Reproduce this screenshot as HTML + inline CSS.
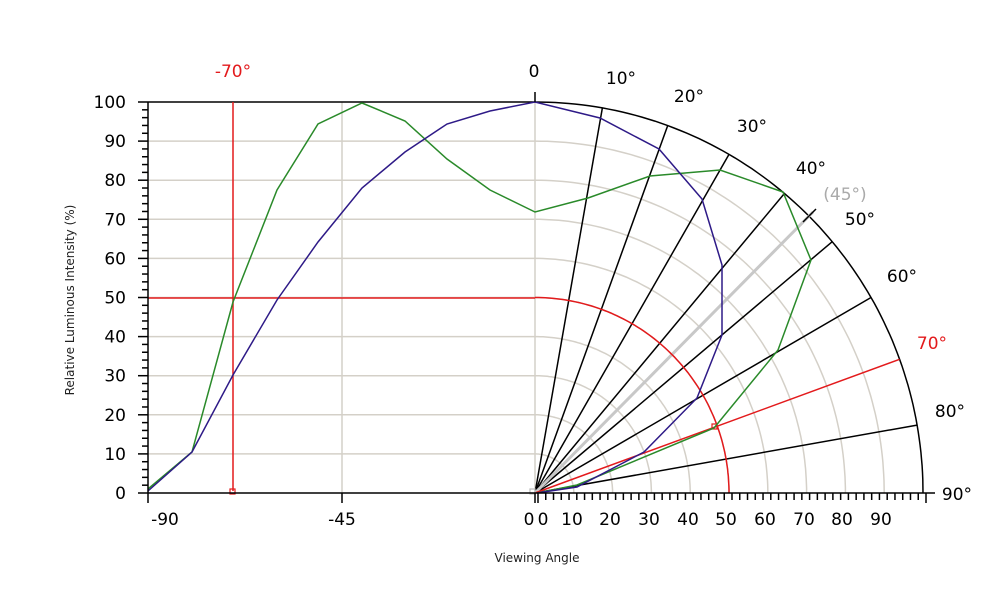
<!DOCTYPE html>
<html><head><meta charset="utf-8"><style>body{margin:0;background:#fff}svg{display:block}text{font-family:"DejaVu Sans","Liberation Sans",sans-serif}</style></head>
<body>
<svg width="1000" height="600" viewBox="0 0 1000 600" xmlns="http://www.w3.org/2000/svg">
<g id="grid" stroke="#d4d0c8" stroke-width="1.5" fill="none"></g>
<g id="rad" stroke="#000" stroke-width="1.5"></g>
<line x1="148" y1="102" x2="535" y2="102" stroke="#000" stroke-width="1.5"/>
<path id="outer" fill="none" stroke="#000" stroke-width="1.5"/>
<line x1="535" y1="493" x2="813" y2="212" stroke="#c8c8c8" stroke-width="3"/>
<line x1="803" y1="222" x2="816" y2="209" stroke="#000" stroke-width="1.5"/>
<!-- red -->
<line x1="148" y1="298" x2="535" y2="298" stroke="#e31a1c" stroke-width="1.5"/>
<path id="redarc" fill="none" stroke="#e31a1c" stroke-width="1.5"/>
<line x1="233" y1="102" x2="233" y2="491" stroke="#e31a1c" stroke-width="1.5"/>
<rect x="230" y="489" width="5" height="5" fill="none" stroke="#e31a1c" stroke-width="1.2"/>
<line id="red70" x1="535" y1="493" stroke="#e31a1c" stroke-width="1.5"/>
<rect x="712" y="424" width="5" height="5" fill="none" stroke="#e31a1c" stroke-width="1.2"/>
<rect x="530" y="489" width="5" height="5" fill="none" stroke="#bbb" stroke-width="1.2"/>
<!-- series -->
<polyline fill="none" stroke="#2a8a2a" stroke-width="1.5" points="148,489 192,452 233,302 277,190 318,124 362,103 405,121 447,159 490,190 535,212 588,198 650,176 720,170 783,192 811,260 778,350 714,428 577,485 537,493"/>
<polyline fill="none" stroke="#2e1a87" stroke-width="1.5" points="148,491 192,452 233,375 277,300 318,242 362,188 405,152 447,124 490,111 535,102 600,118 659,149 702,199 722,265 722,335 697,398 644,452 577,487 537,493"/>
<!-- axes -->
<line x1="148" y1="102" x2="148" y2="493" stroke="#000" stroke-width="1.5"/>
<line x1="148" y1="493" x2="935" y2="493" stroke="#000" stroke-width="1.5"/>
<g id="ticks" stroke="#000" stroke-width="1.5"></g>
<line x1="535" y1="92" x2="535" y2="102" stroke="#000" stroke-width="1.5"/>
<g font-size="17" fill="#000" text-anchor="end" id="ylab"></g>
<g font-size="17" fill="#000" text-anchor="middle">
<text x="165" y="525">-90</text><text x="342" y="525">-45</text>
<text x="529" y="525">0</text>
<text x="543" y="525">0</text><text x="572" y="525">10</text><text x="610" y="525">20</text><text x="649" y="525">30</text><text x="688" y="525">40</text><text x="726" y="525">50</text><text x="765" y="525">60</text><text x="804" y="525">70</text><text x="842" y="525">80</text><text x="881" y="525">90</text>
<text x="534" y="77">0</text>
<text x="233" y="77" fill="#e31a1c">-70°</text>
<text x="621" y="84">10°</text><text x="689" y="102">20°</text><text x="752" y="132">30°</text><text x="811" y="174">40°</text>
<text x="845" y="200" fill="#aaa">(45°)</text><text x="860" y="225">50°</text><text x="902" y="282">60°</text>
<text x="932" y="349" fill="#e31a1c">70°</text><text x="950" y="417">80°</text><text x="957" y="500">90°</text>
</g>
<text x="537" y="562" font-size="12" text-anchor="middle" fill="#222">Viewing Angle</text>
<text transform="translate(74,300) rotate(-90)" font-size="12" text-anchor="middle" fill="#222">Relative Luminous Intensity (%)</text>
<script>
var cx=535,cy=493,sx=3.88,sy=3.91,ns="http://www.w3.org/2000/svg";
function el(p,t,a){var e=document.createElementNS(ns,t);for(var k in a)e.setAttribute(k,a[k]);document.getElementById(p).appendChild(e);return e;}
function arc(r,a0,a1){var d="";for(var a=a0;a<=a1+0.01;a+=1){var t=a*Math.PI/180;d+=(a==a0?"M":"L")+(cx+r*sx*Math.sin(t)).toFixed(1)+","+(cy-r*sy*Math.cos(t)).toFixed(1);}return d;}
for(var v=10;v<100;v+=10){var y=cy-v*sy;el("grid","line",{x1:148,y1:y,x2:535,y2:y});el("grid","path",{d:arc(v,0,90)});}
el("grid","line",{x1:342,y1:102,x2:342,y2:493});el("grid","line",{x1:535,y1:102,x2:535,y2:493});
document.getElementById("outer").setAttribute("d",arc(100,0,90));
document.getElementById("redarc").setAttribute("d",arc(50,0,90));
[10,20,30,40,50,60,80].forEach(function(a){var t=a*Math.PI/180;el("rad","line",{x1:cx,y1:cy,x2:cx+100*sx*Math.sin(t),y2:cy-100*sy*Math.cos(t)});});
var t=70*Math.PI/180;var r=document.getElementById("red70");r.setAttribute("x2",cx+100*sx*Math.sin(t));r.setAttribute("y2",cy-100*sy*Math.cos(t));
for(var v=0;v<=100;v+=2){var y=cy-v*sy;el("ticks","line",{x1:v%10==0?138:142,y1:y,x2:148,y2:y});}
for(var v=0;v<=100;v+=10){var e=el("ylab","text",{x:126,y:cy-v*sy+6});e.textContent=v;}
[148,342,535].forEach(function(x){el("ticks","line",{x1:x,y1:493,x2:x,y2:503});});
for(var v=0;v<=100;v+=2){var x=538+v*sx;el("ticks","line",{x1:x,y1:493,x2:x,y2:(v==0||v==100)?503:500});}
</script>
</svg>
</body></html>
